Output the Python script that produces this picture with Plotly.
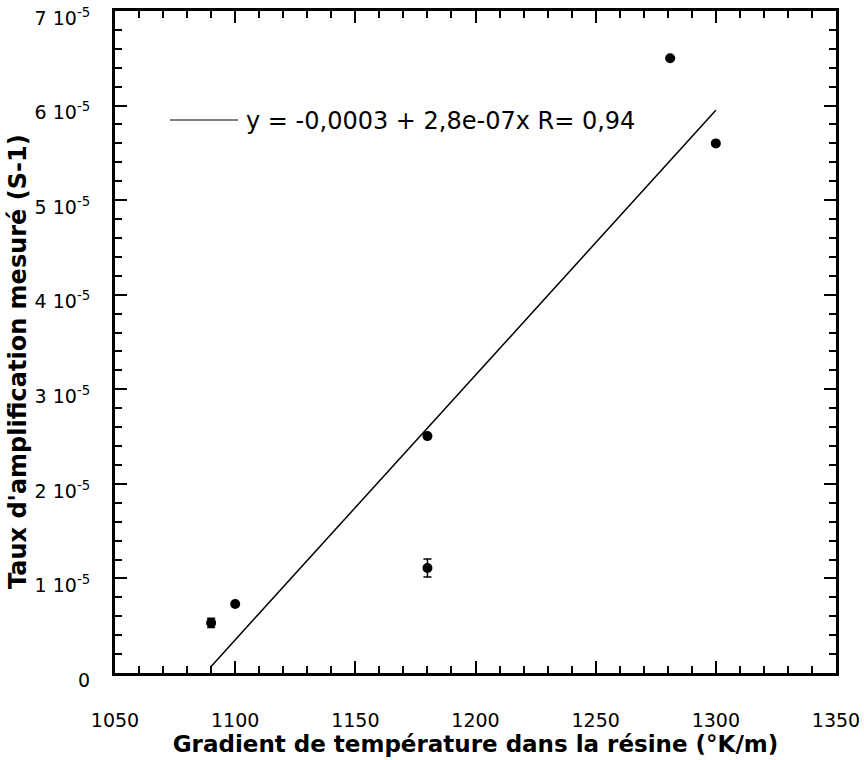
import plotly.graph_objects as go

# Data
gradient = [1090, 1100, 1180, 1180, 1281, 1300]
taux = [5.3e-6, 7.3e-6, 2.505e-5, 1.11e-5, 6.5e-5, 5.6e-5]
taux_err = [0.5e-6, 0.0, 0.0, 0.95e-6, 0.0, 0.0]

fit_x = [1090, 1300]
fit_y = [7.0e-7, 5.95e-5]

y_tickvals = [0, 1e-5, 2e-5, 3e-5, 4e-5, 5e-5, 6e-5, 7e-5]
y_ticktext = ["0", "1 10<sup>-5</sup>", "2 10<sup>-5</sup>", "3 10<sup>-5</sup>",
              "4 10<sup>-5</sup>", "5 10<sup>-5</sup>", "6 10<sup>-5</sup>", "7 10<sup>-5</sup>"]
x_tickvals = [1050, 1100, 1150, 1200, 1250, 1300, 1350]

legend_text = "y = -0,0003 + 2,8e-07x R= 0,94"
x_title = "Gradient de température dans la résine (°K/m)"
y_title = "Taux d'amplification mesuré (S-1)"

fig = go.Figure()
fig.add_trace(go.Scatter(
    x=fit_x, y=fit_y, mode="lines",
    line=dict(color="black", width=1.5), showlegend=False, hoverinfo="skip"))
fig.add_trace(go.Scatter(
    x=gradient, y=taux, mode="markers",
    marker=dict(color="black", size=10),
    error_y=dict(type="data", array=taux_err, color="black", thickness=1.5, width=4),
    showlegend=False))

tickfont = dict(family="DejaVu Sans", size=19, color="black")
titlefont = dict(family="DejaVu Sans", size=23, color="black")

L, R, T, B = 115, 28, 11, 87
PW = 864 - L - R
PH = 760 - T - B

fig.update_layout(
    width=864, height=760,
    margin=dict(l=L, r=R, t=T, b=B),
    paper_bgcolor="white", plot_bgcolor="white",
    xaxis=dict(
        range=[1050, 1350], tickmode="array", tickvals=x_tickvals,
        ticks="inside", ticklen=12, tickwidth=2, tickcolor="black",
        showline=True, linewidth=3, linecolor="black", mirror="ticks",
        showgrid=False, zeroline=False, tickfont=tickfont,
        ticklabelstandoff=28, ticklabeloverflow="allow",
        minor=dict(tick0=1050, dtick=10, ticks="inside", ticklen=7, tickwidth=2, tickcolor="black", showgrid=False),
        title=dict(text="<b>" + x_title + "</b>", font=titlefont, standoff=6),
        automargin=False,
    ),
    yaxis=dict(
        range=[0, 7e-5], tickmode="array", tickvals=y_tickvals, ticktext=y_ticktext,
        ticks="inside", ticklen=12, tickwidth=2, tickcolor="black",
        showline=True, linewidth=3, linecolor="black", mirror="ticks",
        showgrid=False, zeroline=False, tickfont=tickfont,
        ticklabelstandoff=18, ticklabelshift=7, ticklabeloverflow="allow",
        minor=dict(tick0=0, dtick=2e-6, ticks="inside", ticklen=7, tickwidth=2, tickcolor="black", showgrid=False),
        automargin=False,
    ),
    shapes=[dict(type="line", xref="paper", yref="paper",
                 x0=(170 - L) / PW, x1=(238 - L) / PW,
                 y0=(760 - B - 120) / PH, y1=(760 - B - 120) / PH,
                 line=dict(color="black", width=1))],
    annotations=[
        dict(text=legend_text, xref="paper", yref="paper",
             x=(244 - L) / PW, y=(760 - B - 121) / PH,
             xanchor="left", yanchor="middle", showarrow=False,
             font=dict(family="DejaVu Sans", size=24, color="black")),
        dict(text="<b>" + y_title + "</b>", xref="paper", yref="paper",
             x=(18 - L) / PW, y=(760 - B - 362) / PH, textangle=-90,
             xanchor="center", yanchor="middle", showarrow=False,
             font=dict(family="DejaVu Sans", size=24, color="black")),
    ],
)

fig.write_html("out.html", config={"displayModeBar": False},
               post_script="document.body.style.margin='0';document.body.style.overflow='hidden';")
